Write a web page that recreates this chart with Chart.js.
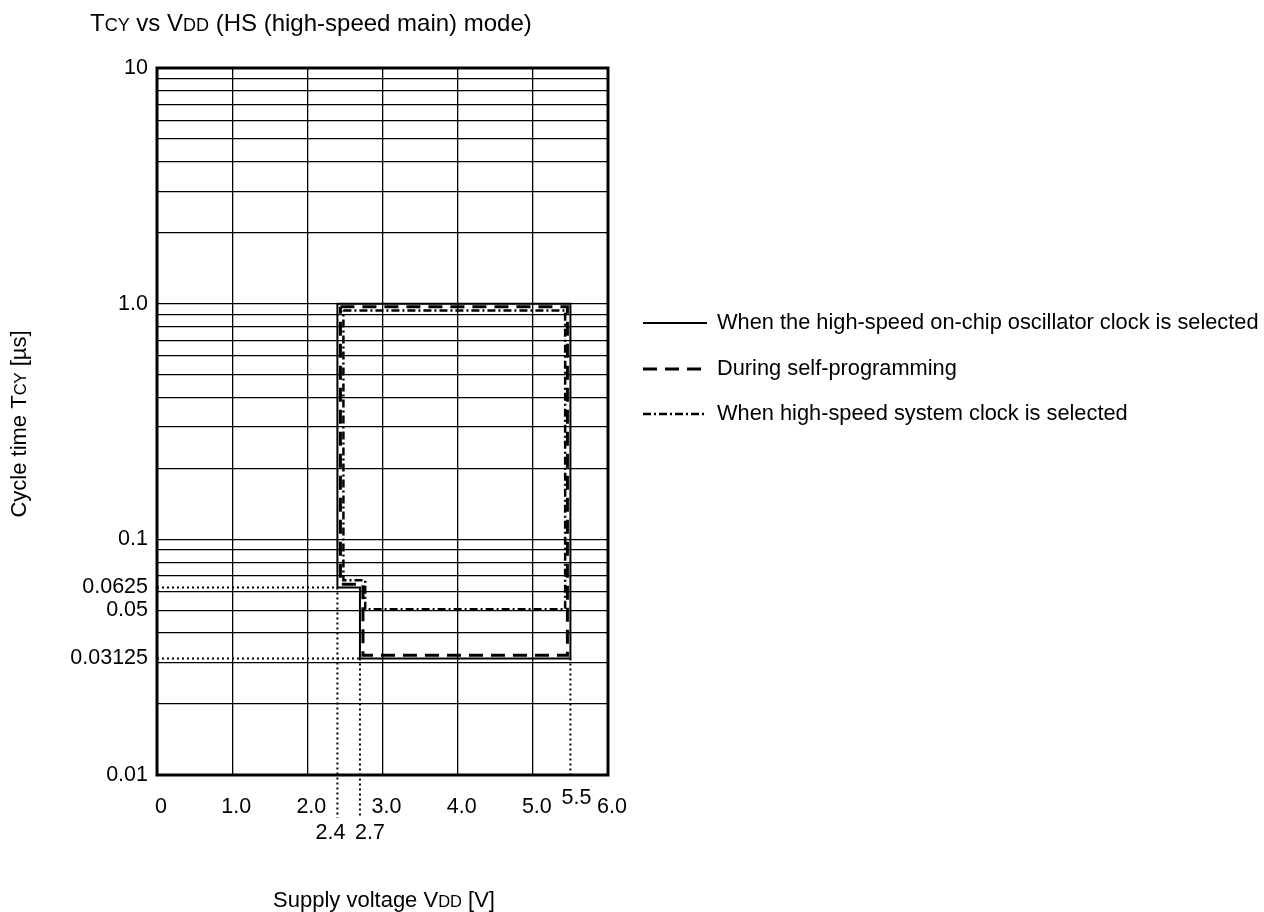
<!DOCTYPE html>
<html><head><meta charset="utf-8">
<script src="https://cdn.jsdelivr.net/npm/chart.js@4.4.0/dist/chart.umd.min.js"></script>
<style>html,body{margin:0;padding:0;background:#fff;}#wrap{width:1264px;height:912px;}</style>
</head><body><div id="wrap"><canvas id="c" width="1264" height="912"></canvas></div>
<script>
// ---- data ----
const xTickValues = [0, 1, 2, 3, 4, 5, 6];
const xTickLabels = ["0", "1.0", "2.0", "3.0", "4.0", "5.0", "6.0"];
const xExtraValues = [2.4, 2.7, 5.5];
const xExtraLabels = ["2.4", "2.7", "5.5"];
const yGridValues = [0.01,0.02,0.03,0.04,0.05,0.06,0.07,0.08,0.09,
                     0.1,0.2,0.3,0.4,0.5,0.6,0.7,0.8,0.9,
                     1,2,3,4,5,6,7,8,9,10];
const yLabelValues = [0.01, 0.05, 0.1, 1, 10];
const yLabelTexts = ["0.01", "0.05", "0.1", "1.0", "10"];
const yExtraValues = [0.0625, 0.03125];
const yExtraLabels = ["0.0625", "0.03125"];

const seriesNames = [
  "When the high-speed on-chip oscillator clock is selected",
  "During self-programming",
  "When high-speed system clock is selected"
];
// outline of each operating region (VDD [V], TCY [µs])
const hocoX   = [2.4, 5.5, 5.5, 2.7, 2.7, 2.4, 2.4];
const hocoY   = [1.0, 1.0, 0.03125, 0.03125, 0.0625, 0.0625, 1.0];
const selfX   = [2.44, 5.46, 5.46, 2.74, 2.74, 2.44, 2.44];
const selfY   = [0.97, 0.97, 0.0322, 0.0322, 0.0644, 0.0644, 0.97];
const hsSysX  = [2.48, 5.43, 5.43, 2.77, 2.77, 2.48, 2.48];
const hsSysY  = [0.935, 0.935, 0.0505, 0.0505, 0.067, 0.067, 0.935];

// dotted reference lines
const refHY    = [0.0625, 0.03125];
const refHXEnd = [2.4, 2.7];
const refVX    = [2.4, 2.7, 5.5];
const refVYTop = [0.0625, 0.03125, 0.03125];

const FONT = '"Liberation Sans", Arial, sans-serif';
const toPts = (xs, ys) => xs.map((x, i) => ({x: x, y: ys[i]}));

const styles = [
  {borderWidth: 2, borderDash: []},
  {borderWidth: 3, borderDash: [14, 8]},
  {borderWidth: 2.5, borderDash: [8, 3, 2, 3]}
];

function drawMixed(ctx, parts, x, y, align) {
  let total = 0;
  parts.forEach(p => { ctx.font = p[1] + 'px ' + FONT; total += ctx.measureText(p[0]).width; });
  let cx = align === 'center' ? x - total / 2 : x;
  ctx.textAlign = 'left';
  parts.forEach(p => { ctx.font = p[1] + 'px ' + FONT; ctx.fillText(p[0], cx, y); cx += ctx.measureText(p[0]).width; });
}

const decor = {
  id: 'decor',
  afterDraw(chart) {
    const ctx = chart.ctx, xs = chart.scales.x, ys = chart.scales.y, a = chart.chartArea;
    ctx.save();
    // frame
    ctx.strokeStyle = '#000'; ctx.lineWidth = 3; ctx.setLineDash([]);
    ctx.strokeRect(a.left, a.top, a.right - a.left, a.bottom - a.top);
    // dotted reference lines
    ctx.lineWidth = 2; ctx.setLineDash([2, 3]);
    refHY.forEach((v, i) => {
      const py = ys.getPixelForValue(v);
      ctx.beginPath(); ctx.moveTo(a.left, py); ctx.lineTo(xs.getPixelForValue(refHXEnd[i]), py); ctx.stroke();
    });
    refVX.forEach((v, i) => {
      const px = xs.getPixelForValue(v);
      const bottom = i < 2 ? a.bottom + 43 : a.bottom;
      ctx.beginPath(); ctx.moveTo(px, ys.getPixelForValue(refVYTop[i])); ctx.lineTo(px, bottom); ctx.stroke();
    });
    ctx.setLineDash([]);
    ctx.fillStyle = '#000';
    ctx.textBaseline = 'middle';
    // extra y labels
    ctx.font = '21.5px ' + FONT; ctx.textAlign = 'right';
    yExtraValues.forEach((v, i) => ctx.fillText(yExtraLabels[i], a.left - 9, ys.getPixelForValue(v)));
    // extra x labels
    ctx.textAlign = 'center';
    const offs = [[-7, 58], [10, 58], [6, 23]];
    xExtraValues.forEach((v, i) => ctx.fillText(xExtraLabels[i], xs.getPixelForValue(v) + offs[i][0], a.bottom + offs[i][1]));
    // title
    ctx.textBaseline = 'alphabetic';
    drawMixed(ctx, [["T", 24], ["CY", 18], [" vs V", 24], ["DD", 18], [" (HS (high-speed main) mode)", 24]], 90, 31, 'left');
    // x title
    drawMixed(ctx, [["Supply voltage V", 22], ["DD", 16.5], [" [V]", 22]], 384, 907, 'center');
    // y title
    ctx.save(); ctx.translate(26, 424); ctx.rotate(-Math.PI / 2);
    drawMixed(ctx, [["Cycle time T", 22], ["CY", 16.5], [" [\u00b5s]", 22]], 0, 0, 'center');
    ctx.restore();
    // legend
    const ly = [323, 369, 414];
    chart.data.datasets.forEach((ds, i) => {
      ctx.lineWidth = ds.borderWidth; ctx.setLineDash(ds.borderDash);
      ctx.strokeStyle = '#000';
      ctx.beginPath(); ctx.moveTo(643, ly[i]); ctx.lineTo(707, ly[i]); ctx.stroke();
      ctx.setLineDash([]);
      ctx.font = '21.8px ' + FONT; ctx.textAlign = 'left'; ctx.textBaseline = 'middle';
      ctx.fillText(ds.label, 717, ly[i]);
    });
    ctx.restore();
  }
};

new Chart(document.getElementById('c'), {
  type: 'scatter',
  data: {
    datasets: [
      {label: seriesNames[0], data: toPts(hocoX, hocoY)},
      {label: seriesNames[1], data: toPts(selfX, selfY)},
      {label: seriesNames[2], data: toPts(hsSysX, hsSysY)}
    ].map((d, i) => Object.assign(d, {
      showLine: true, pointRadius: 0, borderColor: '#000', backgroundColor: '#000',
      borderWidth: styles[i].borderWidth, borderDash: styles[i].borderDash, tension: 0, fill: false
    }))
  },
  options: {
    responsive: false, animation: false, devicePixelRatio: 1,
    layout: {padding: {top: 68, right: 656, left: 0, bottom: 0}},
    plugins: {legend: {display: false}, title: {display: false}, tooltip: {enabled: false}},
    scales: {
      x: {
        type: 'linear', min: 0, max: 6,
        afterBuildTicks: s => { s.ticks = xTickValues.map(v => ({value: v})); },
        afterFit: s => { s.height = 137; },
        ticks: {
          autoSkip: false, maxRotation: 0, padding: 19, labelOffset: 4, color: '#000',
          font: {family: FONT, size: 21.5},
          callback: v => { const i = xTickValues.indexOf(v); return i >= 0 ? xTickLabels[i] : ''; }
        },
        grid: {color: '#000', lineWidth: 1.3, drawTicks: false},
        border: {display: false}
      },
      y: {
        type: 'logarithmic', min: 0.01, max: 10,
        afterBuildTicks: s => { s.ticks = yGridValues.map(v => ({value: v})); },
        afterFit: s => { s.width = 157; },
        ticks: {
          autoSkip: false, padding: 9, color: '#000',
          font: {family: FONT, size: 21.5},
          callback: v => {
            const i = yLabelValues.findIndex(t => Math.abs(t - v) < 1e-9);
            return i >= 0 ? yLabelTexts[i] : '';
          }
        },
        grid: {color: '#000', lineWidth: 1.3, drawTicks: false},
        border: {display: false}
      }
    }
  },
  plugins: [decor]
});
</script>
</body></html>
